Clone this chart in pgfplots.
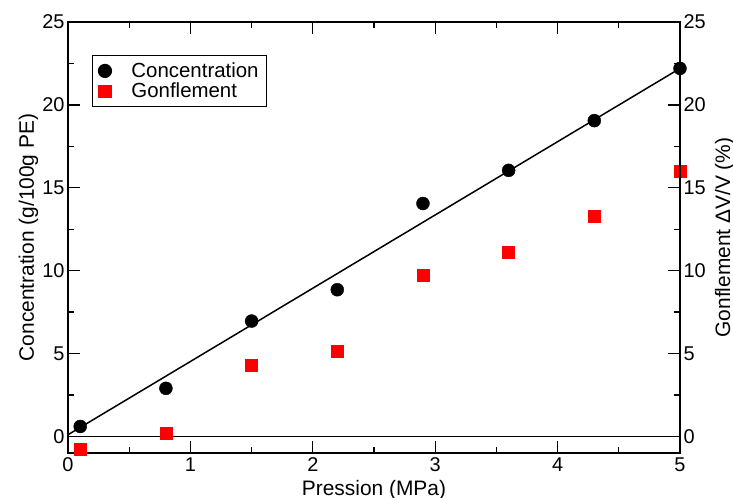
\documentclass[border=0pt]{standalone}
\usepackage{pgfplots}
\pgfplotsset{compat=1.18}
\usepackage{fontspec}
\setmainfont{Liberation Sans}
\begin{document}
\begin{tikzpicture}[x=1bp,y=1bp]
\useasboundingbox (-68bp,-45bp) rectangle (665bp,453bp);
\begin{axis}[
  at={(0,0)}, anchor=south west,
  scale only axis, width=612bp, height=431bp,
  xmin=0, xmax=5, ymin=-1, ymax=25,
  xtick={0,1,2,3,4,5}, minor xtick={0.5,1.5,2.5,3.5,4.5},
  ytick={0,5,10,15,20,25}, minor ytick={2.5,7.5,12.5,17.5,22.5},
  xtick pos=both, ytick pos=left,
  tick align=inside,
  major tick length=12bp, minor tick length=6bp,
  every tick/.style={black, line width=1.3bp},
  axis line style={line width=1.5bp},
  /pgf/number format/assume math mode=true,
  tick label style={font=\fontsize{20}{22}\selectfont},
  xticklabel style={yshift=-1bp},
  label style={font=\fontsize{21}{24}\selectfont},
  xlabel={Pression (MPa)},
  ylabel={Concentration (g/100g PE)},
  xlabel style={at={(axis description cs:0.5,0)}, anchor=base, yshift=-42bp},
  ylabel style={at={(axis description cs:0,0.5)}, anchor=base, yshift=34bp},
  legend style={at={(0.039,0.923)}, anchor=north west, draw=black, line width=1.2bp,
    font=\fontsize{20.5}{23}\selectfont, row sep=0bp, inner xsep=6bp, inner ysep=5bp},
  legend cell align=left,
  clip=false,
]
\addplot[black, line width=1.5bp, forget plot] coordinates {(0,0) (5,0)};
\addplot[black, line width=1.5bp, forget plot] coordinates {(0,0.1) (5,22.2)};
\addplot[only marks, mark=*, mark size=6.5bp, mark options={fill=black, draw=black}]
  coordinates {(0.1,0.6) (0.8,2.9) (1.5,6.96) (2.2,8.85) (2.9,14.05) (3.6,16.05) (4.3,19.05) (5.0,22.2)};
\addlegendentry{\hspace{18bp}Concentration}
\addplot[only marks, mark=square*, mark size=6bp, mark options={fill=red, draw=red}]
  coordinates {(0.1,-0.8) (0.8,0.2) (1.5,4.3) (2.2,5.15) (2.9,9.75) (3.6,11.1) (4.3,13.3) (5.0,16.0)};
\addlegendentry{\hspace{18bp}Gonflement}
\end{axis}
\begin{axis}[
  at={(0,0)}, anchor=south west,
  scale only axis, width=612bp, height=431bp,
  xmin=0, xmax=5, ymin=-1, ymax=25,
  hide x axis,
  axis y line*=right,
  ytick={0,5,10,15,20,25}, minor ytick={2.5,7.5,12.5,17.5,22.5},
  tick align=inside,
  major tick length=12bp, minor tick length=6bp,
  every tick/.style={black, line width=1.3bp},
  axis line style={line width=1.5bp, -},
  /pgf/number format/assume math mode=true,
  tick label style={font=\fontsize{20}{22}\selectfont},
  label style={font=\fontsize{21}{24}\selectfont},
  ylabel={Gonflement ΔV/V (\%)},
  ylabel style={at={(axis description cs:1,0.5)}, anchor=base, yshift=-50bp},
]
\end{axis}
\end{tikzpicture}
\end{document}
